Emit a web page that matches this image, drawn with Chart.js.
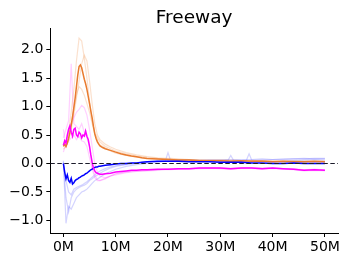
<!DOCTYPE html>
<html>
<head>
<meta charset="utf-8">
<script src="https://cdn.jsdelivr.net/npm/chart.js@4/dist/chart.umd.min.js"></script>
<style>
  html, body { margin: 0; padding: 0; background: #fff; }
</style>
</head>
<body>
<canvas id="chart" width="349" height="262"></canvas>
<script>
// environment steps (millions) for the mean curves
var steps = [0, 0.25, 0.5, 0.75, 1, 1.25, 1.5, 1.75, 2, 2.25, 2.5, 2.75, 3, 3.25, 3.5, 3.75, 4, 4.25, 4.5, 4.75, 5, 5.25, 5.5, 5.75, 6, 6.25, 6.5, 6.75, 7,
  7.5, 8, 9, 10, 11, 12, 13, 14, 15, 16,
  18, 20, 22, 24, 26, 28, 30, 32, 34, 36, 38, 40, 42, 44, 46, 48, 50];

var orangeMean = [0.30, 0.34, 0.30, 0.36, 0.44, 0.55, 0.68, 0.82, 0.98, 1.15, 1.35, 1.55, 1.70, 1.73, 1.68, 1.58, 1.48, 1.40, 1.30, 1.18, 1.05, 0.92, 0.80, 0.65, 0.52, 0.44, 0.38, 0.34, 0.31,
  0.28, 0.26, 0.23, 0.20, 0.17, 0.15, 0.13, 0.12, 0.10, 0.09,
  0.08, 0.07, 0.06, 0.06, 0.05, 0.05, 0.05, 0.04, 0.05, 0.04, 0.04, 0.03, 0.04, 0.03, 0.03, 0.04, 0.03];

var magentaMean = [0.32, 0.40, 0.36, 0.50, 0.60, 0.66, 0.55, 0.48, 0.60, 0.62, 0.50, 0.47, 0.55, 0.52, 0.45, 0.50, 0.48, 0.57, 0.48, 0.42, 0.30, 0.15, 0.02, -0.08, -0.13, -0.16, -0.17, -0.18, -0.19,
  -0.19, -0.18, -0.17, -0.15, -0.14, -0.13, -0.12, -0.12, -0.11, -0.11,
  -0.10, -0.10, -0.09, -0.09, -0.08, -0.08, -0.08, -0.09, -0.08, -0.08, -0.09, -0.08, -0.09, -0.10, -0.12, -0.11, -0.12];

var blueMean = [0.00, -0.15, -0.27, -0.20, -0.30, -0.33, -0.26, -0.36, -0.34, -0.30, -0.28, -0.27, -0.25, -0.24, -0.22, -0.21, -0.20, -0.18, -0.17, -0.15, -0.13, -0.11, -0.10, -0.08, -0.07, -0.06, -0.06, -0.05, -0.05,
  -0.04, -0.03, -0.02, -0.01, 0.00, 0.00, 0.01, 0.01, 0.02, 0.03,
  0.04, 0.04, 0.04, 0.03, 0.03, 0.03, 0.02, 0.02, 0.02, 0.01, 0.01, 0.00, 0.00, 0.01, 0.00, 0.00, 0.00];

// steps for the individual (faded) runs
var seedSteps = [0, 0.5, 1, 1.5, 2, 2.5, 3, 3.5, 4, 4.5, 5, 5.5, 6, 6.5, 7,
  8, 9, 10, 12, 14, 16, 18,
  19.5, 20, 20.5,
  22, 24, 26, 28, 30,
  31.5, 32, 32.5,
  34, 35, 35.5, 36,
  38, 40, 42, 44, 46, 48, 50];

var orangeRuns = [
  [0.30, 0.35, 0.55, 0.90, 1.30, 1.80, 2.20, 2.15, 1.85, 1.50, 1.10, 0.75, 0.55, 0.45, 0.38,
    0.30, 0.26, 0.22, 0.17, 0.13, 0.11, 0.09, 0.08, 0.08, 0.08, 0.07, 0.07, 0.06, 0.06, 0.06,
    0.05, 0.05, 0.05, 0.05, 0.05, 0.05, 0.05, 0.05, 0.04, 0.04, 0.05, 0.04, 0.04, 0.04],
  [0.25, 0.30, 0.40, 0.60, 0.85, 1.15, 1.45, 1.75, 1.90, 1.80, 1.45, 1.05, 0.70, 0.50, 0.42,
    0.34, 0.29, 0.25, 0.19, 0.15, 0.12, 0.10, 0.09, 0.09, 0.09, 0.08, 0.07, 0.07, 0.06, 0.06,
    0.06, 0.06, 0.06, 0.05, 0.05, 0.05, 0.05, 0.05, 0.05, 0.04, 0.04, 0.04, 0.04, 0.04],
  [0.35, 0.30, 0.45, 0.70, 0.95, 1.20, 1.35, 1.30, 1.20, 1.05, 0.90, 0.70, 0.52, 0.40, 0.33,
    0.27, 0.22, 0.18, 0.14, 0.11, 0.09, 0.08, 0.07, 0.07, 0.07, 0.06, 0.06, 0.05, 0.05, 0.05,
    0.04, 0.04, 0.04, 0.04, 0.04, 0.04, 0.04, 0.04, 0.03, 0.03, 0.03, 0.03, 0.02, 0.03]
];

var magentaRuns = [
  [0.45, 0.60, 0.75, 1.75, 0.70, 0.65, 0.60, 0.70, 0.55, 0.45, 0.30, -0.05, -0.20, -0.28, -0.30,
    -0.26, -0.22, -0.20, -0.16, -0.14, -0.13, -0.12, -0.11, -0.11, -0.11, -0.10, -0.10, -0.09, -0.09, -0.09,
    -0.10, -0.10, -0.10, -0.09, -0.09, -0.09, -0.09, -0.10, -0.09, -0.10, -0.11, -0.13, -0.12, -0.13],
  [0.20, 0.35, 0.55, 0.70, 0.80, 0.90, 0.95, 1.02, 0.98, 0.85, 0.60, 0.30, 0.00, -0.15, -0.22,
    -0.25, -0.22, -0.18, -0.15, -0.13, -0.12, -0.11, -0.10, -0.10, -0.10, -0.09, -0.09, -0.08, -0.08, -0.08,
    -0.08, -0.08, -0.08, -0.08, -0.07, -0.07, -0.07, -0.08, -0.08, -0.09, -0.09, -0.11, -0.10, -0.11],
  [0.60, 0.30, 0.40, 0.45, 0.50, 0.42, 0.48, 0.40, 0.38, 0.30, 0.10, -0.10, -0.25, -0.30, -0.30,
    -0.27, -0.22, -0.18, -0.14, -0.13, -0.12, -0.11, -0.10, -0.10, -0.10, -0.10, -0.09, -0.09, -0.08, -0.09,
    -0.09, -0.09, -0.09, -0.08, -0.08, -0.08, -0.08, -0.08, -0.08, -0.09, -0.10, -0.12, -0.11, -0.12]
];

var blueRuns = [
  [0.05, -1.05, -0.75, -0.80, -0.70, -0.60, -0.55, -0.50, -0.48, -0.45, -0.40, -0.35, -0.30, -0.27, -0.24,
    -0.18, -0.14, -0.10, -0.05, -0.02, 0.00, 0.02, 0.04, 0.05, 0.04, 0.05, 0.06, 0.06, 0.06, 0.06,
    0.07, 0.07, 0.07, 0.07, 0.07, 0.07, 0.07, 0.08, 0.07, 0.08, 0.08, 0.09, 0.08, 0.08],
  [0.00, -0.60, -0.85, -0.60, -0.50, -0.45, -0.42, -0.40, -0.38, -0.35, -0.30, -0.27, -0.23, -0.20, -0.17,
    -0.12, -0.08, -0.05, -0.02, 0.00, 0.02, 0.04, 0.05, 0.19, 0.05, 0.06, 0.06, 0.05, 0.06, 0.06,
    0.06, 0.14, 0.06, 0.05, 0.06, 0.17, 0.06, 0.06, 0.07, 0.07, 0.08, 0.08, 0.09, 0.09],
  [0.02, -0.30, -0.50, -0.55, -0.45, -0.42, -0.40, -0.38, -0.35, -0.32, -0.28, -0.24, -0.20, -0.16, -0.13,
    -0.09, -0.06, -0.04, -0.01, 0.01, 0.03, 0.04, 0.04, 0.04, 0.04, 0.04, 0.04, 0.05, 0.05, 0.04,
    0.04, 0.04, 0.04, 0.04, 0.04, 0.04, 0.04, 0.04, 0.03, 0.04, 0.05, 0.06, 0.07, 0.06]
];

var xTicks = [0, 10, 20, 30, 40, 50];
var yTicks = [-1.0, -0.5, 0.0, 0.5, 1.0, 1.5, 2.0];
var xMin = -2.5, xMax = 52.5;
var yMin = -1.22, yMax = 2.37;

function toPoints(xs, ys) {
  return ys.map(function (y, i) { return { x: xs[i], y: y }; });
}

function runSet(xs, ys, color, order) {
  return {
    data: toPoints(xs, ys),
    borderColor: color,
    borderWidth: 1.2,
    pointRadius: 0,
    tension: 0,
    order: order
  };
}

var datasets = [];
orangeRuns.forEach(function (r) { datasets.push(runSet(seedSteps, r, "rgba(240,135,60,0.25)", 10)); });
magentaRuns.forEach(function (r) { datasets.push(runSet(seedSteps, r, "rgba(255,60,255,0.24)", 10)); });
blueRuns.forEach(function (r) { datasets.push(runSet(seedSteps, r, "rgba(60,60,255,0.22)", 10)); });

datasets.push(Object.assign(runSet(steps, orangeMean, "#e97b2e", 5), { borderWidth: 1.5 }));
datasets.push(Object.assign(runSet(steps, blueMean, "#0000ff", 4), { borderWidth: 1.5 }));
datasets.push(Object.assign(runSet(steps, magentaMean, "#ff00ff", 3), { borderWidth: 1.5 }));

// zero reference line
datasets.push({
  data: [{ x: xMin, y: 0 }, { x: xMax, y: 0 }],
  borderColor: "#1b1b2a",
  borderWidth: 1.2,
  borderDash: [4.5, 2.5],
  pointRadius: 0,
  order: 1
});

var font = { family: "'DejaVu Sans', sans-serif", size: 14 };

new Chart(document.getElementById("chart"), {
  type: "line",
  data: { datasets: datasets },
  options: {
    responsive: false,
    animation: false,
    events: [],
    layout: { padding: { left: 0, right: 11, top: 0, bottom: 0 } },
    plugins: {
      legend: { display: false },
      tooltip: { enabled: false },
      title: {
        display: true,
        fullSize: false,
        text: "Freeway",
        color: "#000",
        font: { family: "'DejaVu Sans', sans-serif", size: 18.5, weight: "normal", lineHeight: 1 },
        padding: { top: 8.5, bottom: 1.5 }
      }
    },
    scales: {
      x: {
        type: "linear",
        min: xMin,
        max: xMax,
        afterFit: function (scale) { scale.height = 29; },
        afterBuildTicks: function (scale) {
          scale.ticks = xTicks.map(function (v) { return { value: v }; });
        },
        ticks: {
          color: "#000",
          font: font,
          padding: 2,
          maxRotation: 0,
          autoSkip: false,
          callback: function (v) { return v + "M"; }
        },
        grid: { drawOnChartArea: false, drawTicks: true, tickLength: 4, color: "#000" },
        border: { display: true, color: "#000", width: 1 }
      },
      y: {
        min: yMin,
        max: yMax,
        afterFit: function (scale) { scale.width = 50.3; },
        afterBuildTicks: function (scale) {
          scale.ticks = yTicks.map(function (v) { return { value: v }; });
        },
        ticks: {
          color: "#000",
          font: font,
          padding: 3,
          autoSkip: false,
          callback: function (v) { return (v < 0 ? "\u2212" : "") + Math.abs(v).toFixed(1); }
        },
        grid: { drawOnChartArea: false, drawTicks: true, tickLength: 4, color: "#000" },
        border: { display: true, color: "#000", width: 1 }
      }
    }
  }
});
</script>
</body>
</html>
